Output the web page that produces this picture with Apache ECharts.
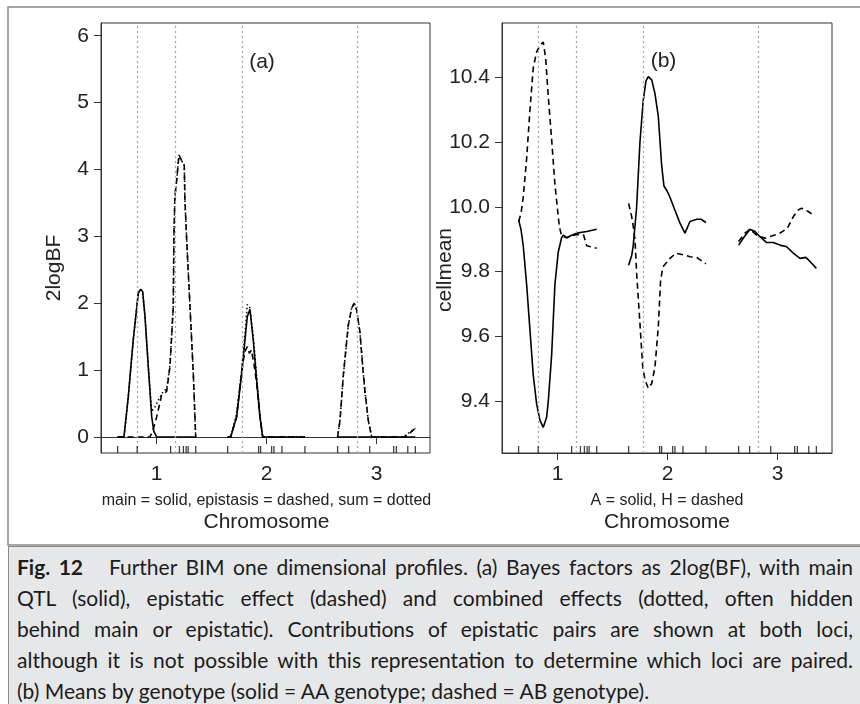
<!DOCTYPE html>
<html><head><meta charset="utf-8">
<script src="https://cdn.jsdelivr.net/npm/echarts@6/dist/echarts.min.js"></script>
<style>
html,body{margin:0;padding:0;background:#fff;}
#wrap{position:relative;width:860px;height:704px;overflow:hidden;}
#chart{position:absolute;left:0;top:0;width:860px;height:704px;}
#cap{position:absolute;left:8px;top:546px;width:900px;height:170px;background:#e6e7e8;
 border-left:1.5px solid #8a8a8a;border-top:1.5px solid #8a8a8a;box-sizing:border-box;
 font-family:Lato,"Open Sans",sans-serif;font-size:21px;color:#1c1c1c;padding-top:4px;padding-left:8px;}
#cap div{width:836px;line-height:31px;text-align:justify;text-align-last:justify;}
#cap div.last{text-align-last:left;}
</style></head>
<body><div id="wrap"><div id="chart"></div>
<div id="cap">
<div><b>Fig. 12</b>&nbsp;&nbsp; Further BIM one dimensional profiles. (a) Bayes factors as 2log(BF), with main</div>
<div>QTL (solid), epistatic effect (dashed) and combined effects (dotted, often hidden</div>
<div>behind main or epistatic). Contributions of epistatic pairs are shown at both loci,</div>
<div>although it is not possible with this representation to determine which loci are paired.</div>
<div class="last">(b) Means by genotype (solid = AA genotype; dashed = AB genotype).</div>
</div></div>
<script>
// ---- data (x in chromosome units: chromosome centres at 1, 2, 3) ----
const chromTicks = [1, 2, 3];
const bfTicks = [0, 1, 2, 3, 4, 5, 6];
const meanTicks = [9.4, 9.6, 9.8, 10.0, 10.2, 10.4];
const qtlPos = [0.818, 1.166, 1.782, 2.818];
const rugPos = [0.645, 0.823, 1.127, 1.207, 1.243, 1.268, 1.286, 1.355,
                1.645, 1.927, 1.945, 2.045, 2.066, 2.139, 2.348,
                2.645, 2.745, 2.937, 3.155, 3.179, 3.283, 3.352];

// panel (a): 2logBF
const mainA1 = [[0.645,0],[0.703,0],[0.742,0.6],[0.787,1.45],[0.833,2.15],[0.855,2.21],[0.873,2.17],[0.894,1.8],[0.924,1.05],[0.955,0.3],[0.975,0.08],[1.0,0],[1.355,0]];
const mainA2 = [[1.645,0],[1.673,0],[1.727,0.3],[1.773,0.95],[1.803,1.45],[1.824,1.8],[1.848,1.91],[1.86,1.9],[1.878,1.45],[1.909,0.85],[1.939,0.3],[1.964,0],[2.348,0]];
const mainA3 = [[2.645,0],[3.352,0]];
const epiA1 = [[0.645,0],[0.939,0],[0.966,0.1],[1.0,0.3],[1.045,0.62],[1.091,0.68],[1.121,1.05],[1.151,1.95],[1.157,3.0],[1.166,3.6],[1.182,3.84],[1.203,4.22],[1.227,4.13],[1.251,4.06],[1.257,3.54],[1.273,2.95],[1.303,1.95],[1.333,0.95],[1.355,0]];
const epiA2 = [[1.645,0],[1.673,0],[1.727,0.3],[1.757,0.75],[1.788,1.15],[1.808,1.3],[1.825,1.35],[1.843,1.25],[1.861,1.3],[1.884,1.1],[1.909,0.8],[1.939,0.3],[1.964,0],[2.348,0]];
const epiA3 = [[2.645,0],[2.667,0.25],[2.697,0.92],[2.742,1.67],[2.773,1.93],[2.797,2.0],[2.818,1.9],[2.848,1.57],[2.871,1.1],[2.894,0.67],[2.924,0.25],[2.955,0],[3.257,0],[3.303,0.06],[3.352,0.13]];
const sumA1 = [[0.645,0],[0.703,0],[0.742,0.6],[0.787,1.45],[0.833,2.15],[0.855,2.21],[0.873,2.17],[0.894,1.8],[0.924,1.05],[0.955,0.38],[0.985,0.45],[1.015,0.55],[1.06,0.68],[1.091,0.72],[1.121,1.08],[1.151,1.95],[1.157,3.0],[1.166,3.6],[1.182,3.84],[1.203,4.22],[1.227,4.13],[1.251,4.06],[1.257,3.54],[1.273,2.95],[1.303,1.95],[1.333,0.95],[1.355,0]];
const sumA2 = [[1.645,0],[1.673,0],[1.727,0.35],[1.773,1.0],[1.803,1.55],[1.824,1.98],[1.848,1.93],[1.878,1.5],[1.909,0.9],[1.939,0.32],[1.964,0],[2.348,0]];
const sumA3 = [[2.645,0],[2.667,0.25],[2.697,0.92],[2.742,1.67],[2.773,1.93],[2.797,2.0],[2.818,1.9],[2.848,1.57],[2.871,1.1],[2.894,0.67],[2.924,0.25],[2.955,0],[3.24,0],[3.30,0.07],[3.352,0.13]];

// panel (b): cell means
const meanA1 = [[0.645,9.96],[0.667,9.93],[0.687,9.88],[0.718,9.76],[0.748,9.62],[0.778,9.48],[0.809,9.39],[0.839,9.34],[0.869,9.318],[0.885,9.32],[0.900,9.35],[0.915,9.40],[0.945,9.54],[0.975,9.76],[1.005,9.86],[1.036,9.905],[1.051,9.913],[1.067,9.908],[1.082,9.905],[1.112,9.91],[1.173,9.919],[1.264,9.924],[1.355,9.931]];
const meanA2 = [[1.645,9.82],[1.673,9.85],[1.687,9.88],[1.718,10.0],[1.748,10.2],[1.778,10.33],[1.803,10.39],[1.824,10.403],[1.855,10.393],[1.885,10.35],[1.915,10.28],[1.945,10.13],[1.966,10.065],[1.994,10.05],[2.021,10.03],[2.066,9.99],[2.112,9.95],[2.157,9.919],[2.203,9.955],[2.264,9.962],[2.303,9.962],[2.348,9.952]];
const meanA3 = [[2.645,9.882],[2.687,9.903],[2.748,9.931],[2.794,9.924],[2.839,9.908],[2.9,9.89],[2.96,9.89],[3.021,9.882],[3.082,9.877],[3.142,9.857],[3.203,9.841],[3.257,9.844],[3.309,9.826],[3.352,9.81]];
const meanH1 = [[0.645,9.955],[0.667,9.98],[0.687,10.03],[0.718,10.15],[0.748,10.30],[0.778,10.43],[0.809,10.48],[0.839,10.50],[0.869,10.51],[0.891,10.46],[0.915,10.34],[0.945,10.21],[0.975,10.07],[1.015,9.94],[1.036,9.91],[1.082,9.905],[1.173,9.915],[1.236,9.913],[1.264,9.88],[1.325,9.875],[1.355,9.872]];
const meanH2 = [[1.645,10.011],[1.673,9.97],[1.687,9.94],[1.703,9.898],[1.718,9.795],[1.748,9.64],[1.773,9.506],[1.794,9.465],[1.824,9.439],[1.855,9.454],[1.885,9.506],[1.915,9.63],[1.936,9.774],[1.958,9.815],[2.021,9.841],[2.075,9.857],[2.142,9.852],[2.203,9.846],[2.264,9.844],[2.348,9.824]];
const meanH3 = [[2.645,9.893],[2.703,9.919],[2.748,9.931],[2.809,9.913],[2.885,9.903],[2.945,9.91],[3.021,9.919],[3.088,9.934],[3.142,9.97],[3.188,9.991],[3.218,9.996],[3.279,9.986],[3.324,9.975]];

// ---- chart ----
const FONT = '"Liberation Sans", Arial, sans-serif';
const AX = '#333';
const SOLID = {color:'#000', width:1.6, type:'solid'};
const DASH = {color:'#000', width:1.6, type:[6,4]};
const DOT = {color:'#000', width:1.5, type:[1.5,2.5]};

function lineS(data, gi, style, z){
  return {type:'line', data:data, xAxisIndex:gi, yAxisIndex:gi, showSymbol:false, symbol:'none',
    lineStyle:style, z:z, silent:true, animation:false, clip:true};
}
function xAx(gi, max){
  return {gridIndex:gi, type:'value', min:0.494, max:max,
    axisLine:{show:true, lineStyle:{color:AX, width:1}},
    axisTick:{show:true, customValues:chromTicks, length:7, lineStyle:{color:AX, width:1}},
    axisLabel:{customValues:chromTicks, fontSize:21, color:'#222', fontFamily:FONT, margin:11},
    splitLine:{show:false}};
}
function yAx(gi, min, max, ticks, fmt){
  return {gridIndex:gi, type:'value', min:min, max:max,
    axisLine:{show:true, lineStyle:{color:AX, width:1}},
    axisTick:{show:true, customValues:ticks, length:7, lineStyle:{color:AX, width:1}},
    axisLabel:{customValues:ticks, fontSize:21, color:'#222', fontFamily:FONT, margin:12, formatter:fmt},
    splitLine:{show:false}};
}
function qtlLines(gi){
  return {type:'line', data:[], xAxisIndex:gi, yAxisIndex:gi, silent:true, animation:false,
    markLine:{silent:true, symbol:['none','none'], label:{show:false}, animation:false,
      lineStyle:{color:'#a8a8a8', type:[2,3], width:1.3},
      data:qtlPos.map(v=>({xAxis:v}))}, z:1};
}
function rug(gi, ymin){
  return {type:'scatter', xAxisIndex:gi, yAxisIndex:gi, data:rugPos.map(v=>[v, ymin]),
    symbol:'rect', symbolSize:[1.3,7], symbolOffset:[0,-3.5], itemStyle:{color:'#111'},
    silent:true, animation:false, clip:false, z:5};
}
function txt(x, y, s, size, rot){
  return {type:'text', x:x, y:y, rotation:rot||0, silent:true,
    style:{text:s, fontSize:size, fontFamily:FONT, fill:'#222', align:'center', verticalAlign:'middle'}};
}

const chart = echarts.init(document.getElementById('chart'), null, {renderer:'canvas'});
chart.setOption({
  animation:false,
  backgroundColor:'#fff',
  grid:[
    {left:101, top:23, width:329, height:430, show:true, borderColor:AX, borderWidth:1, containLabel:false},
    {left:502, top:23, width:330, height:430, show:true, borderColor:AX, borderWidth:1, containLabel:false}
  ],
  xAxis:[xAx(0, 3.485), xAx(1, 3.494)],
  yAxis:[yAx(0, -0.24, 6.19, bfTicks, v=>String(Math.round(v))),
         yAx(1, 9.239, 10.569, meanTicks, v=>Number(v).toFixed(1))],
  series:[
    qtlLines(0), qtlLines(1),
    lineS(sumA1,0,DOT,2), lineS(sumA2,0,DOT,2), lineS(sumA3,0,DOT,2),
    lineS(mainA1,0,SOLID,3), lineS(mainA2,0,SOLID,3), lineS(mainA3,0,SOLID,3),
    lineS(epiA1,0,DASH,4), lineS(epiA2,0,DASH,4), lineS(epiA3,0,DASH,4),
    lineS(meanA1,1,SOLID,3), lineS(meanA2,1,SOLID,3), lineS(meanA3,1,SOLID,3),
    lineS(meanH1,1,DASH,4), lineS(meanH2,1,DASH,4), lineS(meanH3,1,DASH,4),
    rug(0, -0.24), rug(1, 9.239)
  ],
  graphic:[
    {type:'rect', shape:{x:8, y:7, width:900, height:538}, style:{fill:'none', stroke:'#8a8a8a', lineWidth:1.5}, silent:true, z:-1},
    txt(262, 62, '(a)', 21), txt(663.5, 61, '(b)', 21),
    txt(54.5, 268, '2logBF', 21, Math.PI/2),
    txt(445, 270, 'cellmean', 21, Math.PI/2),
    txt(266.5, 501, 'main = solid, epistasis = dashed, sum = dotted', 16),
    txt(266.5, 522, 'Chromosome', 21),
    txt(667, 501, 'A = solid, H = dashed', 16),
    txt(667, 522, 'Chromosome', 21)
  ]
});
</script></body></html>
